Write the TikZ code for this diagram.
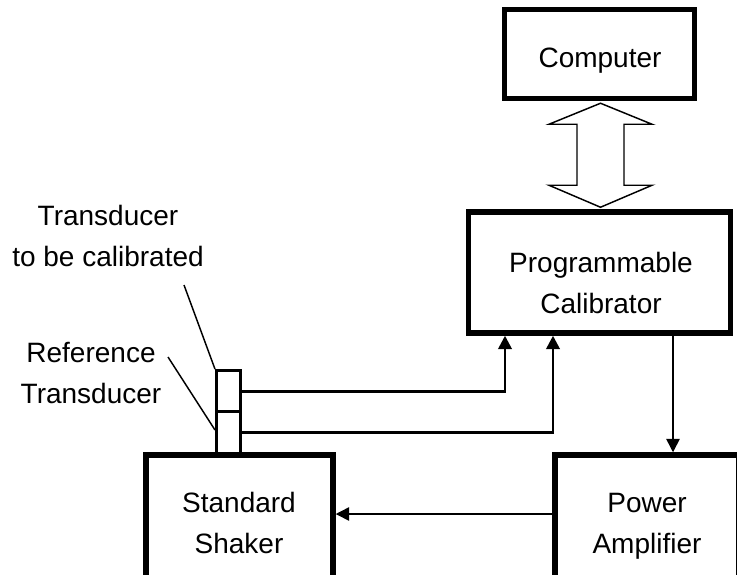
\documentclass[tikz,border=0pt]{standalone}
\usepackage{fontspec}
\setmainfont{Liberation Sans}
\usetikzlibrary{arrows.meta,calc}

\tikzset{
  unitbox/.style={draw, line width=4.1pt, rectangle, inner sep=0pt},
  sensor/.style={draw, line width=2.25pt, rectangle, inner sep=0pt,
                 minimum width=18pt, minimum height=31pt},
  lbl/.style={inner sep=0pt, align=center,
              font=\fontsize{21pt}{30.75pt}\selectfont},
  wire/.style={line width=2pt, -{Triangle[length=10pt,width=10pt]}},
  signal/.style={line width=1.1pt, -{Triangle[length=10pt,width=10pt]}},
  leader/.style={line width=1.1pt},
  bus/.style={draw, line width=1.1pt, fill=white, line join=miter}
}

\begin{document}
\begin{tikzpicture}[x=0.75pt, y=-0.75pt]
  \useasboundingbox (0,0) rectangle (737,574);
  \clip (0,0) rectangle (737,574);

  % main units
  \node[unitbox, minimum width=142.5pt, minimum height=66.75pt] (comp) at (599.5,54) {};
  \node[unitbox, minimum width=196.5pt, minimum height=90.75pt] (cal) at (599.5,272.5) {};
  \node[unitbox, minimum width=140.25pt, minimum height=105pt] (shk) at (239.5,525) {};
  \node[unitbox, minimum width=138pt, minimum height=105pt] (amp) at (647,525) {};

  % texts of the units (anchored on the baseline of the last line)
  \node[lbl, anchor=base] (tcomp) at (600,68) {Computer};
  \node[lbl, anchor=base] (tcal) at (601,313) {Programmable\\Calibrator};
  \node[lbl, anchor=base] (tshk) at (239,553) {Standard\\Shaker};
  \node[lbl, anchor=base] (tamp) at (647,553) {Power\\Amplifier};

  % stacked transducers on the shaker table
  \node[sensor] (tlo) at (228.5,432.5) {};
  \node[sensor] (tup) at (228.5,391.3) {};

  % transducer labels and their leader lines
  \node[lbl, anchor=base] (tdut) at (108,266) {Transducer\\to be calibrated};
  \node[lbl, anchor=base] (tref) at (91,403) {Reference\\Transducer};
  \coordinate (ldut) at (184,285);
  \coordinate (lref) at (168,357);
  \draw[leader] (ldut) -- (tup.north west);
  \draw[leader] (lref) -- ($(tlo.west)+(0,-2.5)$);

  % bidirectional bus between computer and calibrator
  \coordinate (dmid) at ($(comp.south)!0.5!(cal.north)$);
  \draw[bus] ($(dmid)+(1,-52)$) -- ($(dmid)+(52.5,-31)$) -- ($(dmid)+(24.5,-31)$)
    -- ($(dmid)+(24.5,30)$) -- ($(dmid)+(52.5,30)$) -- ($(dmid)+(1,52)$)
    -- ($(dmid)+(-50.5,30)$) -- ($(dmid)+(-22.5,30)$) -- ($(dmid)+(-22.5,-31)$)
    -- ($(dmid)+(-50.5,-31)$) -- cycle;

  % transducer signals into the calibrator
  \draw[wire] (tup.east) -| ($(cal.south)+(-94.5,0)$);
  \draw[wire] (tlo.east) -| ($(cal.south)+(-46.5,0)$);

  % drive chain: calibrator -> amplifier -> shaker
  \coordinate (drv) at ($(cal.south)+(73.5,0)$);
  \draw[signal] (drv) -- (drv |- amp.north);
  \draw[signal] ($(amp.west)+(0,-11)$) -- ($(shk.east)+(0,-11)$);
\end{tikzpicture}
\end{document}
